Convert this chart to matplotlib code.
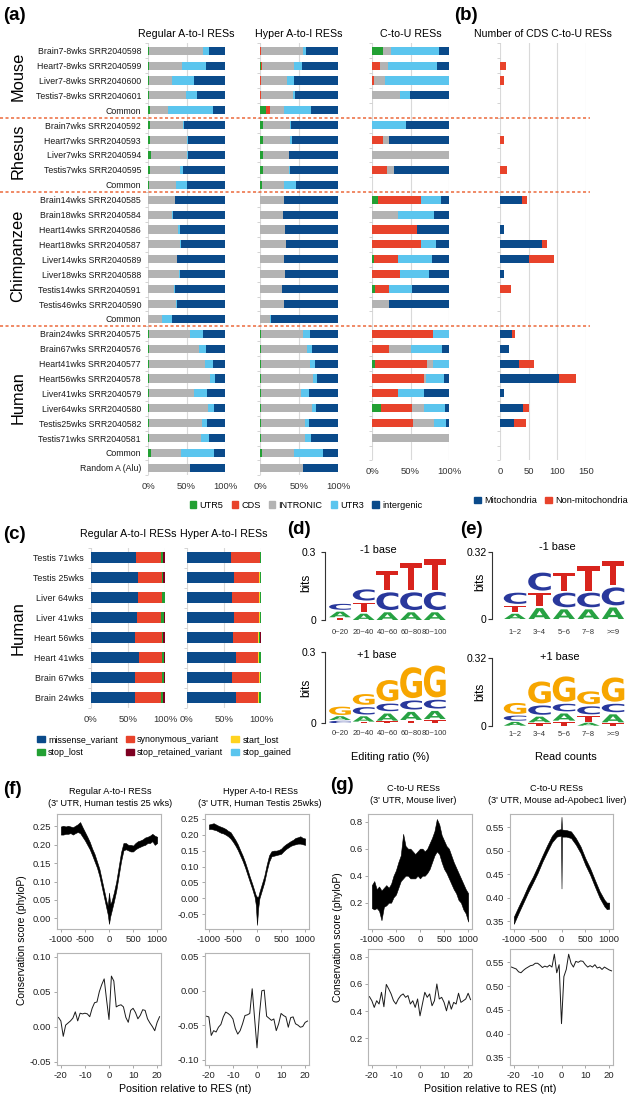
import numpy as np
import matplotlib
matplotlib.use('Agg')
import matplotlib.pyplot as plt
import matplotlib.transforms as mtrans
from matplotlib.lines import Line2D
from matplotlib.patches import Patch, PathPatch
from matplotlib.textpath import TextPath
from matplotlib.font_manager import FontProperties

plt.rcParams['font.family'] = ['Liberation Sans', 'DejaVu Sans']
plt.rcParams['axes.unicode_minus'] = False

W, H = 633, 1101

# ---------------- panel (a)/(b) data ----------------
row_labels = ['Brain7-8wks SRR2040598', 'Heart7-8wks SRR2040599', 'Liver7-8wks SRR2040600',
              'Testis7-8wks SRR2040601', 'Common',
              'Brain7wks SRR2040592', 'Heart7wks SRR2040593', 'Liver7wks SRR2040594',
              'Testis7wks SRR2040595', 'Common',
              'Brain14wks SRR2040585', 'Brain18wks SRR2040584', 'Heart14wks SRR2040586',
              'Heart18wks SRR2040587', 'Liver14wks SRR2040589', 'Liver18wks SRR2040588',
              'Testis14wks SRR2040591', 'Testis46wks SRR2040590', 'Common',
              'Brain24wks SRR2040575', 'Brain67wks SRR2040576', 'Heart41wks SRR2040577',
              'Heart56wks SRR2040578', 'Liver41wks SRR2040579', 'Liver64wks SRR2040580',
              'Testis25wks SRR2040582', 'Testis71wks SRR2040581', 'Common', 'Random A (Alu)']
group_names = ['Mouse', 'Rhesus', 'Chimpanzee', 'Human']
group_sizes = [5, 5, 9, 10]
region_names = ['UTR5', 'CDS', 'INTRONIC', 'UTR3', 'intergenic']
region_colors = ['#22a033', '#e8432b', '#b3b3b3', '#5bc5ee', '#0a4a8a']

# percent per region: UTR5, CDS, INTRONIC, UTR3, intergenic
regular_pct = [
    [1.5, 0, 69.5, 8, 21], [1.5, 0, 42.2, 31.3, 25], [1.5, 0, 29.5, 29, 40],
    [1.5, 0, 47.5, 14, 37], [2.5, 0, 23, 58.5, 16],
    [2.5, 0, 43.5, 1, 53], [2.5, 0, 48, 1.5, 48], [3.5, 0, 47, 1.5, 48],
    [2.5, 0, 39.5, 4, 54], [1.5, 0, 35.3, 13.8, 49.4],
    [0.3, 0, 34.3, 0.9, 64.5], [0.3, 0, 31.3, 0.9, 67.5], [0.3, 0, 39.1, 2.6, 58],
    [0.3, 0, 41.3, 0.8, 57.6], [0.3, 0, 36.9, 0.8, 62], [0.3, 0, 40.4, 1.3, 58],
    [0.3, 0, 33.5, 1.2, 65], [0.3, 0, 36.5, 1.2, 62], [0.3, 0, 18.3, 12.1, 69.3],
    [1, 0, 53.5, 16.5, 29], [1, 0, 65.7, 9.1, 24.2], [1, 0, 73, 10.4, 15.6],
    [0.8, 0, 79.7, 6.9, 12.6], [1, 0, 58.3, 17.3, 23.4], [1, 0, 77, 7.3, 14.7],
    [1, 0, 69.5, 6.5, 23], [1, 0, 68.3, 10, 20.7], [4, 0, 39.3, 42, 14.7],
    [0, 0, 55, 0, 45]]
hyper_pct = [
    [0.5, 0.5, 54, 4, 41], [1, 1, 41.4, 10.2, 46.4], [0.5, 0.5, 33, 9.4, 56.6],
    [0.5, 0.5, 41.5, 2.2, 55.3], [7.6, 5.2, 17.8, 34.4, 35],
    [4, 0, 34.3, 1.3, 60.4], [4, 0, 35, 1.8, 59.2], [4, 0, 32.6, 1.2, 62.2],
    [4, 0, 33, 1.3, 61.7], [3, 0, 28, 15.4, 53.6],
    [0.3, 0, 29.9, 0, 69.8], [0.3, 0, 28.7, 0, 71], [0.3, 0, 31.7, 0, 68],
    [0.3, 0, 32.7, 0, 67], [0.3, 0, 30.7, 0, 69], [0.3, 0, 32, 0, 67.7],
    [0.3, 0, 28.1, 0, 71.6], [0.3, 0, 29.9, 0, 69.8], [0.3, 0, 12.5, 1.2, 86],
    [1, 0, 54.3, 8.5, 36.2], [1, 0, 59.4, 6, 33.6], [1, 0, 62.8, 6.8, 29.4],
    [0.8, 0, 67.2, 5.2, 26.8], [1, 0, 52.2, 9.8, 37], [1, 0, 65.4, 5.1, 28.5],
    [1, 0, 56.5, 5.1, 37.4], [1, 0, 57.3, 6.7, 35], [3, 0, 40.8, 37, 19.2],
    [0, 0, 54.5, 0, 45.5]]
ctou_pct = [
    [13.8, 0, 10.9, 62.3, 13], [0, 10.8, 9.5, 64.5, 15.2], [0, 2, 15.3, 82.7, 0],
    [0, 0, 36.8, 12.1, 51.1], [0, 0, 0, 0, 0],
    [0, 0, 0, 44, 56], [0, 13.8, 8.7, 0, 77.5], [0, 0, 100, 0, 0],
    [0, 19.5, 9.1, 0, 71.4], [0, 0, 0, 0, 0],
    [8.2, 55.5, 0, 25.9, 10.4], [0, 0, 33.8, 46.7, 19.5], [0, 58.8, 0, 0, 41.2],
    [0, 64, 0, 19, 17], [2.6, 31.4, 0, 43.4, 22.6], [0, 36.8, 0, 37.2, 26],
    [4.3, 17.7, 0, 30, 48], [0, 0, 22.5, 0, 77.5], [0, 0, 0, 0, 0],
    [0, 78.7, 0, 21.3, 0], [0, 21.6, 29, 40.7, 8.7], [3.4, 68, 7.8, 20.8, 0],
    [0, 68, 2.5, 23, 6.5], [0, 33.3, 0, 33.7, 33], [11.2, 40.3, 16.5, 27.2, 4.8],
    [0, 53.6, 26.9, 15.2, 4.3], [0, 0, 100, 0, 0], [0, 0, 0, 0, 0]]
cds_mito = [0, 0, 0, 0, 0, 0, 0, 0, 0, 0, 38, 0, 7, 73, 51, 7, 0, 0, 0,
            21, 15, 33, 103, 7, 40, 25, 0, 0]
cds_nonmito = [0, 10, 7, 0, 0, 0, 7, 0, 12, 0, 9, 0, 0, 9, 43, 0, 19, 0, 0,
               6, 0, 27, 30, 0, 10, 20, 0, 0]

# ---------------- panel (c) data ----------------
variant_rows = ['Testis 71wks', 'Testis 25wks', 'Liver 64wks', 'Liver 41wks',
                'Heart 56wks', 'Heart 41wks', 'Brain 67wks', 'Brain 24wks']
variant_names = ['missense_variant', 'synonymous_variant', 'start_lost',
                 'stop_lost', 'stop_retained_variant', 'stop_gained']
variant_colors = ['#0a4a8a', '#e8432b', '#ffd320', '#22a033', '#7e0021', '#5bc5ee']
variant_regular = [
    [61, 33.2, 0.2, 2.6, 3, 0], [63.2, 32.3, 0.2, 2.1, 2.2, 0],
    [64, 32.4, 0.2, 2.9, 0.5, 0], [62.5, 32.5, 0.2, 3.8, 1, 0],
    [59.6, 35.9, 0.2, 2.1, 2.2, 0], [65, 30.5, 0.2, 2.3, 2, 0],
    [59.6, 36.8, 0.2, 2.4, 1, 0], [59.6, 35.4, 0.2, 2.6, 2.2, 0]]
variant_hyper = [
    [59.6, 39, 0, 1.4, 0, 0], [63.2, 34.5, 1.5, 0.5, 0.3, 0],
    [61, 36.7, 0.8, 1.5, 0, 0], [64, 33.7, 0.8, 1.5, 0, 0],
    [62.3, 34.1, 1, 0.6, 2, 0], [66.8, 29.6, 0.4, 2.7, 0.5, 0],
    [61.4, 35.9, 1, 1.7, 0, 0], [66.4, 30, 1.3, 2.3, 0, 0]]

# ---------------- panel (d)/(e) logo data (bits) ----------------
ratio_bins = ['0~20', '20~40', '40~60', '60~80', '80~100']
count_bins = ['1~2', '3~4', '5~6', '7~8', '>=9']
ratio_minus1 = {'A': [0.033, 0.037, 0.044, 0.044, 0.044],
                'C': [0.035, 0.059, 0.088, 0.088, 0.09],
                'G': [0, 0, 0, 0, 0],
                'T': [0.012, 0.049, 0.092, 0.129, 0.144]}
ratio_plus1 = {'A': [0.021, 0.03, 0.04, 0.044, 0.044],
               'C': [0.014, 0.041, 0.042, 0.048, 0.047],
               'G': [0.045, 0.055, 0.099, 0.14, 0.144],
               'T': [0, 0.007, 0.011, 0.014, 0.018]}
count_minus1 = {'A': [0.035, 0.063, 0.057, 0.057, 0.066],
                'C': [0.063, 0.095, 0.079, 0.079, 0.095],
                'G': [0, 0, 0, 0, 0],
                'T': [0.038, 0.073, 0.095, 0.126, 0.123]}
count_plus1 = {'A': [0.024, 0.036, 0.044, 0.019, 0.048],
               'C': [0.032, 0.054, 0.046, 0.048, 0.05],
               'G': [0.062, 0.114, 0.13, 0.071, 0.125],
               'T': [0, 0.016, 0.024, 0.035, 0.016]}
LOGO_COLORS = {'A': '#27a243', 'C': '#29389c', 'G': '#f7a600', 'T': '#d8241d'}

# ---------------- panel (f)/(g) conservation data ----------------
f_wide_x = [-1000, -950, -900, -850, -800, -750, -700, -650, -600, -550, -500, -450, -400,
            -350, -300, -250, -200, -150, -100, -50, -25, 0, 25, 50, 100, 150, 200, 250,
            300, 350, 400, 450, 500, 550, 600, 650, 700, 750, 800, 850, 900, 950, 1000]
f_reg_lo = [0.228, 0.228, 0.23, 0.23, 0.232, 0.228, 0.232, 0.235, 0.232, 0.222, 0.212, 0.2,
            0.188, 0.172, 0.155, 0.138, 0.115, 0.085, 0.055, 0.025, 0.01, -0.015, 0.005,
            0.018, 0.045, 0.075, 0.115, 0.155, 0.185, 0.188, 0.185, 0.182, 0.182, 0.188,
            0.192, 0.195, 0.198, 0.2, 0.205, 0.205, 0.21, 0.2, 0.205]
f_reg_hi = [0.25, 0.252, 0.25, 0.252, 0.25, 0.248, 0.252, 0.256, 0.262, 0.248, 0.235, 0.222,
            0.208, 0.19, 0.175, 0.155, 0.135, 0.105, 0.075, 0.045, 0.035, 0.07, 0.04, 0.045,
            0.07, 0.1, 0.14, 0.18, 0.205, 0.205, 0.2, 0.2, 0.198, 0.205, 0.21, 0.212, 0.215,
            0.22, 0.222, 0.225, 0.23, 0.225, 0.222]
f_hyp_lo = [0.218, 0.218, 0.216, 0.214, 0.21, 0.206, 0.204, 0.2, 0.195, 0.188, 0.178, 0.166,
            0.152, 0.135, 0.118, 0.098, 0.075, 0.052, 0.03, 0.005, -0.02, -0.083, -0.03, 0.0,
            0.025, 0.05, 0.085, 0.115, 0.132, 0.134, 0.136, 0.138, 0.14, 0.148, 0.155, 0.16,
            0.165, 0.168, 0.17, 0.172, 0.172, 0.17, 0.168]
f_hyp_hi = [0.232, 0.234, 0.236, 0.232, 0.228, 0.225, 0.222, 0.218, 0.212, 0.208, 0.196,
            0.184, 0.17, 0.152, 0.135, 0.115, 0.092, 0.068, 0.046, 0.022, 0.01, 0.005, 0.005,
            0.02, 0.045, 0.07, 0.105, 0.135, 0.148, 0.15, 0.15, 0.152, 0.156, 0.164, 0.17,
            0.175, 0.18, 0.184, 0.19, 0.192, 0.195, 0.19, 0.188]
g_liver_x = list(range(-1000, 1001, 50))
g_liver_lo = [0.16, 0.15, 0.16, 0.14, 0.07, 0.17, 0.18, 0.2, 0.2, 0.24, 0.26, 0.31, 0.36,
              0.38, 0.4, 0.4, 0.38, 0.38, 0.38, 0.4, 0.38, 0.4, 0.4, 0.42, 0.45, 0.5, 0.55,
              0.58, 0.56, 0.5, 0.45, 0.42, 0.38, 0.34, 0.3, 0.27, 0.22, 0.2, 0.15, 0.12, 0.06]
g_liver_hi = [0.33, 0.36, 0.3, 0.32, 0.29, 0.31, 0.33, 0.31, 0.34, 0.4, 0.44, 0.5, 0.55,
              0.71, 0.62, 0.6, 0.6, 0.58, 0.56, 0.58, 0.6, 0.6, 0.58, 0.6, 0.64, 0.68, 0.73,
              0.82, 0.78, 0.7, 0.66, 0.62, 0.6, 0.55, 0.5, 0.46, 0.42, 0.38, 0.34, 0.3, 0.27]
g_apo_x = [-1000, -900, -800, -700, -600, -500, -400, -300, -200, -100, -10, 0, 10, 100,
           200, 300, 400, 500, 600, 700, 800, 900, 950, 1000]
g_apo_lo = [0.345, 0.368, 0.39, 0.412, 0.432, 0.453, 0.477, 0.498, 0.518, 0.53, 0.532, 0.42,
            0.53, 0.53, 0.527, 0.513, 0.495, 0.47, 0.449, 0.424, 0.4, 0.382, 0.376, 0.377]
g_apo_hi = [0.36, 0.382, 0.403, 0.426, 0.445, 0.467, 0.49, 0.512, 0.532, 0.544, 0.546, 0.572,
            0.545, 0.544, 0.541, 0.527, 0.509, 0.484, 0.463, 0.438, 0.414, 0.396, 0.39, 0.39]

nt_pos = list(range(-21, 22))
f_reg_near = [0.013, 0.008, -0.014, 0.002, 0.005, 0.008, 0.012, 0.021, 0.008, 0.019, 0.018,
              0.019, 0.018, 0.014, 0.026, 0.034, 0.035, 0.05, 0.06, 0.068, 0.038, 0.01, 0.072,
              0.065, 0.028, 0.03, 0.031, 0.028, 0.013, 0.006, 0.023, 0.026, 0.02, 0.011, 0.016,
              0.024, 0.023, 0.011, 0.005, 0.0, -0.006, 0.006, 0.014]
f_hyp_near = [-0.037, -0.038, -0.065, -0.058, -0.06, -0.053, -0.049, -0.038, -0.031, -0.033,
              -0.036, -0.041, -0.055, -0.063, -0.058, -0.048, -0.036, -0.035, -0.033, 0.003,
              -0.04, -0.083, -0.035, 0.0, 0.001, -0.037, -0.04, -0.043, -0.041, -0.058, -0.048,
              -0.033, -0.036, -0.038, -0.053, -0.039, -0.038, -0.048, -0.05, -0.053, -0.052,
              -0.046, -0.044]
g_liver_near = [0.507, 0.477, 0.428, 0.477, 0.453, 0.539, 0.433, 0.597, 0.564, 0.527, 0.477,
                0.453, 0.49, 0.515, 0.527, 0.502, 0.515, 0.453, 0.477, 0.428, 0.49, 0.366,
                0.453, 0.539, 0.502, 0.527, 0.44, 0.477, 0.6, 0.49, 0.502, 0.465, 0.403, 0.477,
                0.415, 0.465, 0.453, 0.532, 0.465, 0.477, 0.49, 0.532, 0.485]
g_apo_near = [0.54, 0.538, 0.536, 0.53, 0.528, 0.533, 0.537, 0.54, 0.543, 0.544, 0.548, 0.548,
              0.544, 0.539, 0.542, 0.54, 0.544, 0.54, 0.567, 0.528, 0.545, 0.421, 0.52, 0.535,
              0.567, 0.548, 0.54, 0.552, 0.55, 0.553, 0.552, 0.545, 0.54, 0.543, 0.54, 0.545,
              0.538, 0.54, 0.535, 0.54, 0.537, 0.534, 0.532]

fig = plt.figure(figsize=(W / 100, H / 100), dpi=100)


def rect(x0, y0, x1, y1):
    return [x0 / W, 1 - y1 / H, (x1 - x0) / W, (y1 - y0) / H]


def ftext(x, y, s, **kw):
    kw.setdefault('ha', 'center')
    kw.setdefault('va', 'center')
    fig.text(x / W, 1 - y / H, s, **kw)


def stacked_bars(ax, table, colors, height):
    data = np.array(table, dtype=float)
    rows = np.arange(len(data))
    left = np.zeros(len(data))
    for j, c in enumerate(colors):
        ax.barh(rows, data[:, j], left=left, height=height, color=c, linewidth=0)
        left += data[:, j]
    ax.set_ylim(len(data) - 0.5, -0.5)
    return rows


def style_bar_axes(ax, nrows, xmax, xticks, xlabels, labels=None, label_size=6.3):
    ax.set_xlim(0, xmax)
    ax.set_xticks(xticks, xlabels)
    ax.grid(axis='x', color='#d9d9d9', lw=0.8)
    ax.set_axisbelow(True)
    for s in ax.spines.values():
        s.set_visible(False)
    ax.tick_params(axis='x', length=0, pad=5, labelsize=6.8, labelcolor='#333333')
    ax.set_yticks(np.arange(nrows + 1) - 0.5, minor=True)
    ax.tick_params(axis='y', which='minor', length=2.5, width=0.6, color='#cccccc')
    if labels is None:
        ax.set_yticks(np.arange(nrows), [''] * nrows)
        ax.tick_params(axis='y', which='major', length=0)
    else:
        ax.set_yticks(np.arange(nrows), labels)
        ax.tick_params(axis='y', which='major', length=0, pad=5,
                       labelsize=label_size, labelcolor='#1a1a1a')


# ================= panel (a) and (b) =================
pct_ticks = [0, 50, 100]
pct_labels = ['0%', '50%', '100%']
ax_reg = fig.add_axes(rect(148, 43.25, 225, 475.35))
stacked_bars(ax_reg, regular_pct, region_colors, 0.55)
style_bar_axes(ax_reg, len(regular_pct), 100, pct_ticks, pct_labels, row_labels)
ax_reg.set_title('Regular A-to-I RESs', fontsize=7.7, pad=4.6)

ax_hyp = fig.add_axes(rect(260, 43.25, 338, 475.35))
stacked_bars(ax_hyp, hyper_pct, region_colors, 0.55)
style_bar_axes(ax_hyp, len(hyper_pct), 100, pct_ticks, pct_labels)
ax_hyp.set_title('Hyper A-to-I RESs', fontsize=7.7, pad=4.6)

ax_ctu = fig.add_axes(rect(372, 43.25, 449, 460.45))
stacked_bars(ax_ctu, ctou_pct, region_colors, 0.55)
style_bar_axes(ax_ctu, len(ctou_pct), 100, pct_ticks, pct_labels)
ax_ctu.set_title('C-to-U RESs', fontsize=7.7, pad=4.6)

ax_cnt = fig.add_axes(rect(500, 43.25, 586, 460.45))
stacked_bars(ax_cnt, np.column_stack([cds_mito, cds_nonmito]), ['#0a4a8a', '#e8432b'], 0.55)
style_bar_axes(ax_cnt, len(cds_mito), 150, [0, 50, 100, 150], ['0', '50', '100', '150'])
ax_cnt.set_title('Number of CDS C-to-U RESs', fontsize=7.6, pad=4.6)

# species separators and labels
tr = mtrans.blended_transform_factory(fig.transFigure, ax_reg.transData)
for e in np.cumsum(group_sizes)[:-1] - 0.5:
    fig.add_artist(Line2D([0, 590 / W], [e, e], transform=tr, color='#ec6a3c',
                          lw=1.1, ls=(0, (2, 1.6))))
start = 0
for name, n in zip(group_names, group_sizes):
    fig.text(18 / W, start + (n - 1) / 2 - 0.25, name, transform=tr, rotation=90,
             ha='center', va='center', fontsize=11.8)
    start += n

fig.legend(handles=[Patch(color=c, label=l) for c, l in zip(region_colors, region_names)],
           loc='center', bbox_to_anchor=(306 / W, 1 - 505 / H), ncol=5, frameon=False,
           fontsize=6.6, handlelength=0.7, handleheight=0.7, handletextpad=0.35,
           columnspacing=0.9, borderpad=0, borderaxespad=0)
fig.legend(handles=[Patch(color='#0a4a8a', label='Mitochondria'),
                    Patch(color='#e8432b', label='Non-mitochondria')],
           loc='center', bbox_to_anchor=(551 / W, 1 - 501 / H), ncol=2, frameon=False,
           fontsize=6.6, handlelength=0.7, handleheight=0.7, handletextpad=0.35,
           columnspacing=0.9, borderpad=0, borderaxespad=0)

ftext(3, 15, '(a)', ha='left', fontsize=13.5, fontweight='bold')
ftext(466, 15, '(b)', fontsize=13.5, fontweight='bold')

# ================= panel (c) =================
ax_vr = fig.add_axes(rect(90.7, 547.7, 165, 707.7))
stacked_bars(ax_vr, variant_regular, variant_colors, 0.53)
style_bar_axes(ax_vr, len(variant_rows), 100, pct_ticks, pct_labels, variant_rows, 6.4)
ax_vr.set_title('Regular A-to-I RESs', fontsize=7.7, pad=7.5)

ax_vh = fig.add_axes(rect(186.7, 547.7, 261, 707.7))
stacked_bars(ax_vh, variant_hyper, variant_colors, 0.53)
style_bar_axes(ax_vh, len(variant_rows), 100, pct_ticks, pct_labels)
ax_vh.set_title('Hyper A-to-I RESs', fontsize=7.7, pad=7.5)

trc = mtrans.blended_transform_factory(fig.transFigure, ax_vr.transData)
fig.text(18 / W, (len(variant_rows) - 1) / 2, 'Human', transform=trc, rotation=90,
         ha='center', va='center', fontsize=12)

order = [0, 3, 1, 4, 2, 5]
fig.legend(handles=[Patch(color=variant_colors[i], label=variant_names[i]) for i in order],
           loc='upper left', bbox_to_anchor=(37 / W, 1 - 735 / H), ncol=3, frameon=False,
           fontsize=6.4, handlelength=0.9, handleheight=0.8, handletextpad=0.35,
           columnspacing=0.9, labelspacing=0.45, borderpad=0, borderaxespad=0)
ftext(3, 534, '(c)', ha='left', fontsize=13.5, fontweight='bold')

# ================= panel (d) and (e) logos =================
LOGO_FONT = FontProperties(family='DejaVu Sans', weight='bold')


def draw_letter(ax, ch, x, y, w, h, color):
    tp = TextPath((0, 0), ch, size=1, prop=LOGO_FONT)
    bb = tp.get_extents()
    t = mtrans.Affine2D().translate(-bb.x0, -bb.y0).scale(w / bb.width, h / bb.height)
    t = t.translate(x - w / 2, y)
    ax.add_patch(PathPatch(t.transform_path(tp), facecolor=color, edgecolor='none'))


def draw_logo(ax, heights, gap=0.01):
    letters = list(heights)
    for i in range(len(heights[letters[0]])):
        base = 0.0
        for h, l in sorted((heights[l][i], l) for l in letters):
            if h <= 0:
                continue
            draw_letter(ax, l, i, base, 0.92, h - min(0.25 * h, gap), LOGO_COLORS[l])
            base += h


def logo_axes(r, xlim, ymax, ylab, bins, heights, xpad, ypad):
    ax = fig.add_axes(r)
    draw_logo(ax, heights)
    ax.set_xlim(xlim)
    ax.set_ylim(0, ymax)
    for k in ['top', 'right', 'bottom']:
        ax.spines[k].set_visible(False)
    ax.spines['left'].set_color('#333333')
    ax.spines['left'].set_linewidth(0.8)
    ax.set_yticks([0, ymax], ['0', ylab])
    ax.set_xticks(range(len(bins)), bins)
    ax.tick_params(axis='y', length=3, width=0.8, color='#333333', labelsize=7.5, pad=ypad)
    ax.tick_params(axis='x', length=0, labelsize=5.5, labelcolor='#333333', pad=xpad)
    return ax


logo_axes(rect(325, 552, 447, 620), (-0.633, 4.515), 0.3, '0.3', ratio_bins, ratio_minus1, 6.2, 3.2)
logo_axes(rect(325, 652, 447, 723.3), (-0.633, 4.515), 0.3, '0.3', ratio_bins, ratio_plus1, 4.7, 3.2)
logo_axes(rect(492, 551.7, 626, 619.3), (-0.939, 4.53), 0.32, '0.32', count_bins, count_minus1, 6.9, 1)
logo_axes(rect(492, 658.3, 626, 725.7), (-0.939, 4.53), 0.32, '0.32', count_bins, count_plus1, 3.6, 1)

ftext(378, 550, '-1 base', fontsize=7.9)
ftext(376.7, 655, '+1 base', fontsize=7.9)
ftext(557.7, 546.7, '-1 base', fontsize=7.9)
ftext(560, 657.3, '+1 base', fontsize=7.9)
for x, y in [(306.5, 583), (306.5, 688), (480, 582), (480, 691.7)]:
    ftext(x, y, 'bits', rotation=90, fontsize=8.5)
ftext(390, 757.3, 'Editing ratio (%)', fontsize=7.9)
ftext(566, 757.3, 'Read counts', fontsize=7.9)
ftext(287, 530, '(d)', ha='left', fontsize=13.5, fontweight='bold')
ftext(460, 530, '(e)', ha='left', fontsize=13.5, fontweight='bold')

# ================= panel (f) and (g) =================
wide_ticks = [-1000, -500, 0, 500, 1000]
near_ticks = [-20, -10, 0, 10, 20]


def r_axes(r, xlim, ylim, xticks, yticks, fmt):
    ax = fig.add_axes(r)
    ax.set_xlim(xlim)
    ax.set_ylim(ylim)
    ax.set_xticks(xticks, [str(t) for t in xticks])
    ax.set_yticks(yticks, [fmt.format(t) for t in yticks])
    for s in ax.spines.values():
        s.set_color('#b5b5b5')
        s.set_linewidth(0.8)
    ax.tick_params(length=2.5, width=0.6, color='#999999', labelsize=6.8,
                   labelcolor='#222222', pad=1.5)
    return ax


ax = r_axes(rect(57, 814, 161, 929), (-1080, 1080), (-0.029, 0.284), wide_ticks,
            [0, 0.05, 0.1, 0.15, 0.2, 0.25], '{:.2f}')
ax.fill_between(f_wide_x, f_reg_lo, f_reg_hi, color='black', lw=0.4)
ax = r_axes(rect(205, 814, 309, 929), (-1080, 1080), (-0.096, 0.265), wide_ticks,
            [-0.05, 0, 0.05, 0.1, 0.15, 0.2, 0.25], '{:.2f}')
ax.fill_between(f_wide_x, f_hyp_lo, f_hyp_hi, color='black', lw=0.4)
ax = r_axes(rect(57, 953, 161, 1065), (-21.6, 21.6), (-0.055, 0.105), near_ticks,
            [-0.05, 0, 0.05, 0.1], '{:.2f}')
ax.plot(nt_pos, f_reg_near, color='#1a1a1a', lw=0.7)
ax = r_axes(rect(205, 953, 309, 1065), (-21.6, 21.6), (-0.108, 0.055), near_ticks,
            [-0.1, -0.05, 0, 0.05], '{:.2f}')
ax.plot(nt_pos, f_hyp_near, color='#1a1a1a', lw=0.7)

ax = r_axes(rect(368, 814, 472, 929), (-1080, 1080), (0.005, 0.857), wide_ticks,
            [0.2, 0.4, 0.6, 0.8], '{:.1f}')
ax.fill_between(g_liver_x, g_liver_lo, g_liver_hi, color='black', lw=0.4)
ax = r_axes(rect(510, 814, 613, 929), (-1080, 1080), (0.334, 0.578), wide_ticks,
            [0.35, 0.4, 0.45, 0.5, 0.55], '{:.2f}')
ax.fill_between(g_apo_x, g_apo_lo, g_apo_hi, color='black', lw=0.4)
ax = r_axes(rect(368, 949, 472, 1065), (-21.6, 21.6), (0.005, 0.857), near_ticks,
            [0.2, 0.4, 0.6, 0.8], '{:.1f}')
ax.plot(nt_pos, g_liver_near, color='#1a1a1a', lw=0.7)
ax = r_axes(rect(510, 949, 613, 1065), (-21.6, 21.6), (0.334, 0.578), near_ticks,
            [0.35, 0.4, 0.45, 0.5, 0.55], '{:.2f}')
ax.plot(nt_pos, g_apo_near, color='#1a1a1a', lw=0.7)

ftext(110, 791.7, 'Regular A-to-I RESs', fontsize=6.6)
ftext(110, 803.3, "(3' UTR, Human testis 25 wks)", fontsize=6.6)
ftext(260, 791.7, 'Hyper A-to-I RESs', fontsize=6.6)
ftext(260, 803.3, "(3' UTR, Human Testis 25wks)", fontsize=6.6)
ftext(413.3, 788.3, 'C-to-U RESs', fontsize=6.6)
ftext(413.3, 800.5, "(3' UTR, Mouse liver)", fontsize=6.6)
ftext(556.7, 788.3, 'C-to-U RESs', fontsize=6.6)
ftext(556.7, 800.5, "(3' UTR, Mouse ad-Apobec1 liver)", fontsize=6.6)
ftext(21.7, 940, 'Conservation score (phyloP)', rotation=90, fontsize=7.4)
ftext(338.3, 936.7, 'Conservation score (phyloP)', rotation=90, fontsize=7.4)
ftext(185, 1089.3, 'Position relative to RES (nt)', fontsize=7.7)
ftext(490, 1089, 'Position relative to RES (nt)', fontsize=7.7)
ftext(3, 790, '(f)', ha='left', fontsize=13.5, fontweight='bold')
ftext(330, 786, '(g)', ha='left', fontsize=13.5, fontweight='bold')

fig.savefig('out.png', dpi=100)
